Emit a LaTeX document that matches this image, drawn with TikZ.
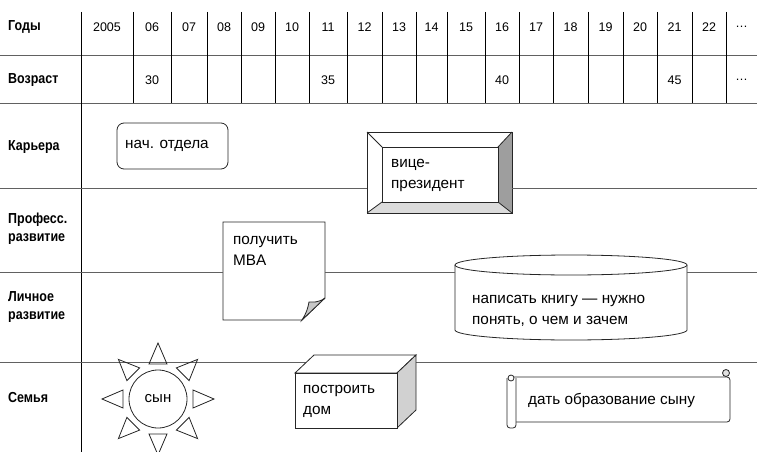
\documentclass[tikz,border=0pt]{standalone}
\usepackage{fontspec}
\setmainfont{Liberation Sans}
\newfontfamily\lblfont{Liberation Sans}[FakeStretch=0.86]
\usetikzlibrary{calc}
\begin{document}
\begin{tikzpicture}[x=1pt,y=-1pt,
  lbl/.style={anchor=west, font=\lblfont\bfseries\fontsize{14.5}{18}\selectfont, align=left, inner sep=0},
  num/.style={font=\fontsize{12.5}{14}\selectfont, inner sep=0},
  txt/.style={font=\fontsize{15.3}{21}\selectfont, align=left, anchor=west, inner sep=0},
  hline/.style={draw=black!62, line width=0.9pt},
  vline/.style={draw=black, line width=0.8pt},
  shp/.style={draw=black!85, line width=0.8pt},
  area/.style={inner sep=0, minimum width=#1},
  suntri/.style={draw=black!85, line width=0.8pt}
]
\useasboundingbox (0,0) rectangle (757,452);

% row end coordinates
\coordinate (r55L) at (0,55);   \coordinate (r55R) at (757,55);
\coordinate (r103L) at (0,103); \coordinate (r103R) at (757,103);
\coordinate (r188L) at (0,188); \coordinate (r188R) at (757,188);
\coordinate (r272L) at (0,272); \coordinate (r272R) at (757,272);
\coordinate (r362L) at (0,362); \coordinate (r362R) at (757,362);

% grid
\draw[hline] (r55L) -- (r55R);
\draw[hline] (r103L) -- (r103R);
\foreach \x in {133,171,207,241,275,309,347,382,416,447,485,519,553,588,623,657,692,726}
  \draw[vline] (\x,12) -- (\x,103);
\draw[vline] (81,12) -- (81,452);

% row labels
\node[lbl] (lgody) at (8,27) {Годы};
\node[lbl] (lvozr) at (8,80) {Возраст};
\node[lbl] (lkar) at (8,147) {Карьера};
\node[lbl] (lprof) at (8,229) {Професс.\\развитие};
\node[lbl] (llich) at (8,307) {Личное\\развитие};
\node[lbl] (lsem) at (8,398) {Семья};

% years
\foreach \l/\r/\t [count=\i] in {81/133/2005,133/171/06,171/207/07,207/241/08,241/275/09,275/309/10,309/347/11,347/382/12,382/416/13,416/447/14,447/485/15,485/519/16,519/553/17,553/588/18,588/623/19,623/657/20,657/692/21,692/726/22,726/757/…}
  \node[num] (yr\i) at ({(\l+\r)/2},27) {\t};
% ages
\foreach \l/\r/\t [count=\i] in {133/171/30,309/347/35,485/519/40,657/692/45,726/757/…}
  \node[num] (age\i) at ({(\l+\r)/2},80) {\t};

% Career: head of department
\node[draw=black!85, line width=0.8pt, rounded corners=7pt, area=111pt, minimum height=46pt] (nach) at (172.5,146) {};
\node[txt] (nacht) at (125,146) {нач. отдела};

% Career: vice-president (bevel)
\node[area=145pt, minimum height=81pt] (vp) at (439.5,172.5) {};
\fill[white] (367,132) rectangle (512,213);
\fill[black!38] (512,132) -- (512,213) -- (498,202) -- (498,147) -- cycle;
\fill[black!14] (367,213) -- (512,213) -- (498,202) -- (382,202) -- cycle;
\draw[shp] (367,132) rectangle (512,213);
\draw[shp] (382,147) rectangle (498,202);
\draw[shp] (367,132) -- (382,147) (512,132) -- (498,147) (367,213) -- (382,202) (512,213) -- (498,202);
\node[txt] (vpt) at (391,175.5) {вице-\\президент};
\draw[hline] (r188L) -- (vp.west |- r188L);
\draw[hline] (vp.east |- r188R) -- (r188R);

% MBA note with folded corner
\node[area=102pt, minimum height=98pt] (mba) at (274,271) {};
\draw[shp, fill=white] (223,222) -- (325,222) -- (325,298) -- (302,320) -- (223,320) -- cycle;
\draw[shp, fill=black!22] (325,298) .. controls (318,303) and (313,302) .. (309,302) .. controls (308,308) and (306,314) .. (302,320) -- cycle;
\node[txt] (mbat) at (233,251) {получить\\MBA};

% Book cylinder
\node[area=232pt, minimum height=85pt] (cyl) at (571,297.5) {};
\draw[shp, fill=white] (455,265) -- (455,330) .. controls (455,335.5) and (507,340) .. (571,340) .. controls (635,340) and (687,335.5) .. (687,330) -- (687,265);
\draw[shp, fill=white] (571,265) ellipse [x radius=116pt, y radius=10pt];
\node[txt] (cylt) at (472,310.5) {написать книгу — нужно\\понять, о чем и зачем};

\draw[hline] (r272L) -- (mba.west |- r272L);
\draw[hline] (mba.east |- r272L) -- (cyl.west |- r272L);
\draw[hline] (cyl.east |- r272R) -- (r272R);

% Family: house (cube)
\node[area=121pt, minimum height=73pt] (house) at (355.5,391.5) {};
\coordinate (houseL) at (306.5,362);
\coordinate (houseR) at (416,362);
\draw[hline] (r362L) -- (houseL);
\draw[hline] (houseR) -- (r362R);
\draw[shp, fill=white] (295,373) -- (314,355) -- (416,355) -- (397,373) -- cycle;
\draw[shp, fill=black!18] (397,373) -- (416,355) -- (416,410) -- (397,428) -- cycle;
\draw[shp, fill=white] (295,373) rectangle (397,428);
\node[txt] (houset) at (303,401.5) {построить\\дом};

% Family: son (sun)
\node[circle, draw=black!85, line width=0.8pt, minimum size=58pt, inner sep=0, font=\fontsize{15}{17}\selectfont] (sun) at (158,399) {сын};
\foreach \a in {0,45,...,315}
  \draw[suntri, shift={(sun.center)}, rotate=\a] (56,0) -- (35,9) -- (35,-9) -- cycle;

% Family: education (scroll)
\node[area=223pt, minimum height=52pt] (scroll) at (618.5,400) {};
\draw[shp, fill=white, rounded corners=3pt] (514,377) -- (730,377) -- (730,422) -- (514,422);
\draw[shp, fill=black!12] (726,373) circle (3.5pt);
\draw[shp, fill=white, rounded corners=3pt] (516,378) -- (516,428) -- (507,428) -- (507,378);
\draw[shp] (511,378) circle (3pt);
\node[txt] (scrollt) at (528,400) {дать образование сыну};

\end{tikzpicture}
\end{document}
